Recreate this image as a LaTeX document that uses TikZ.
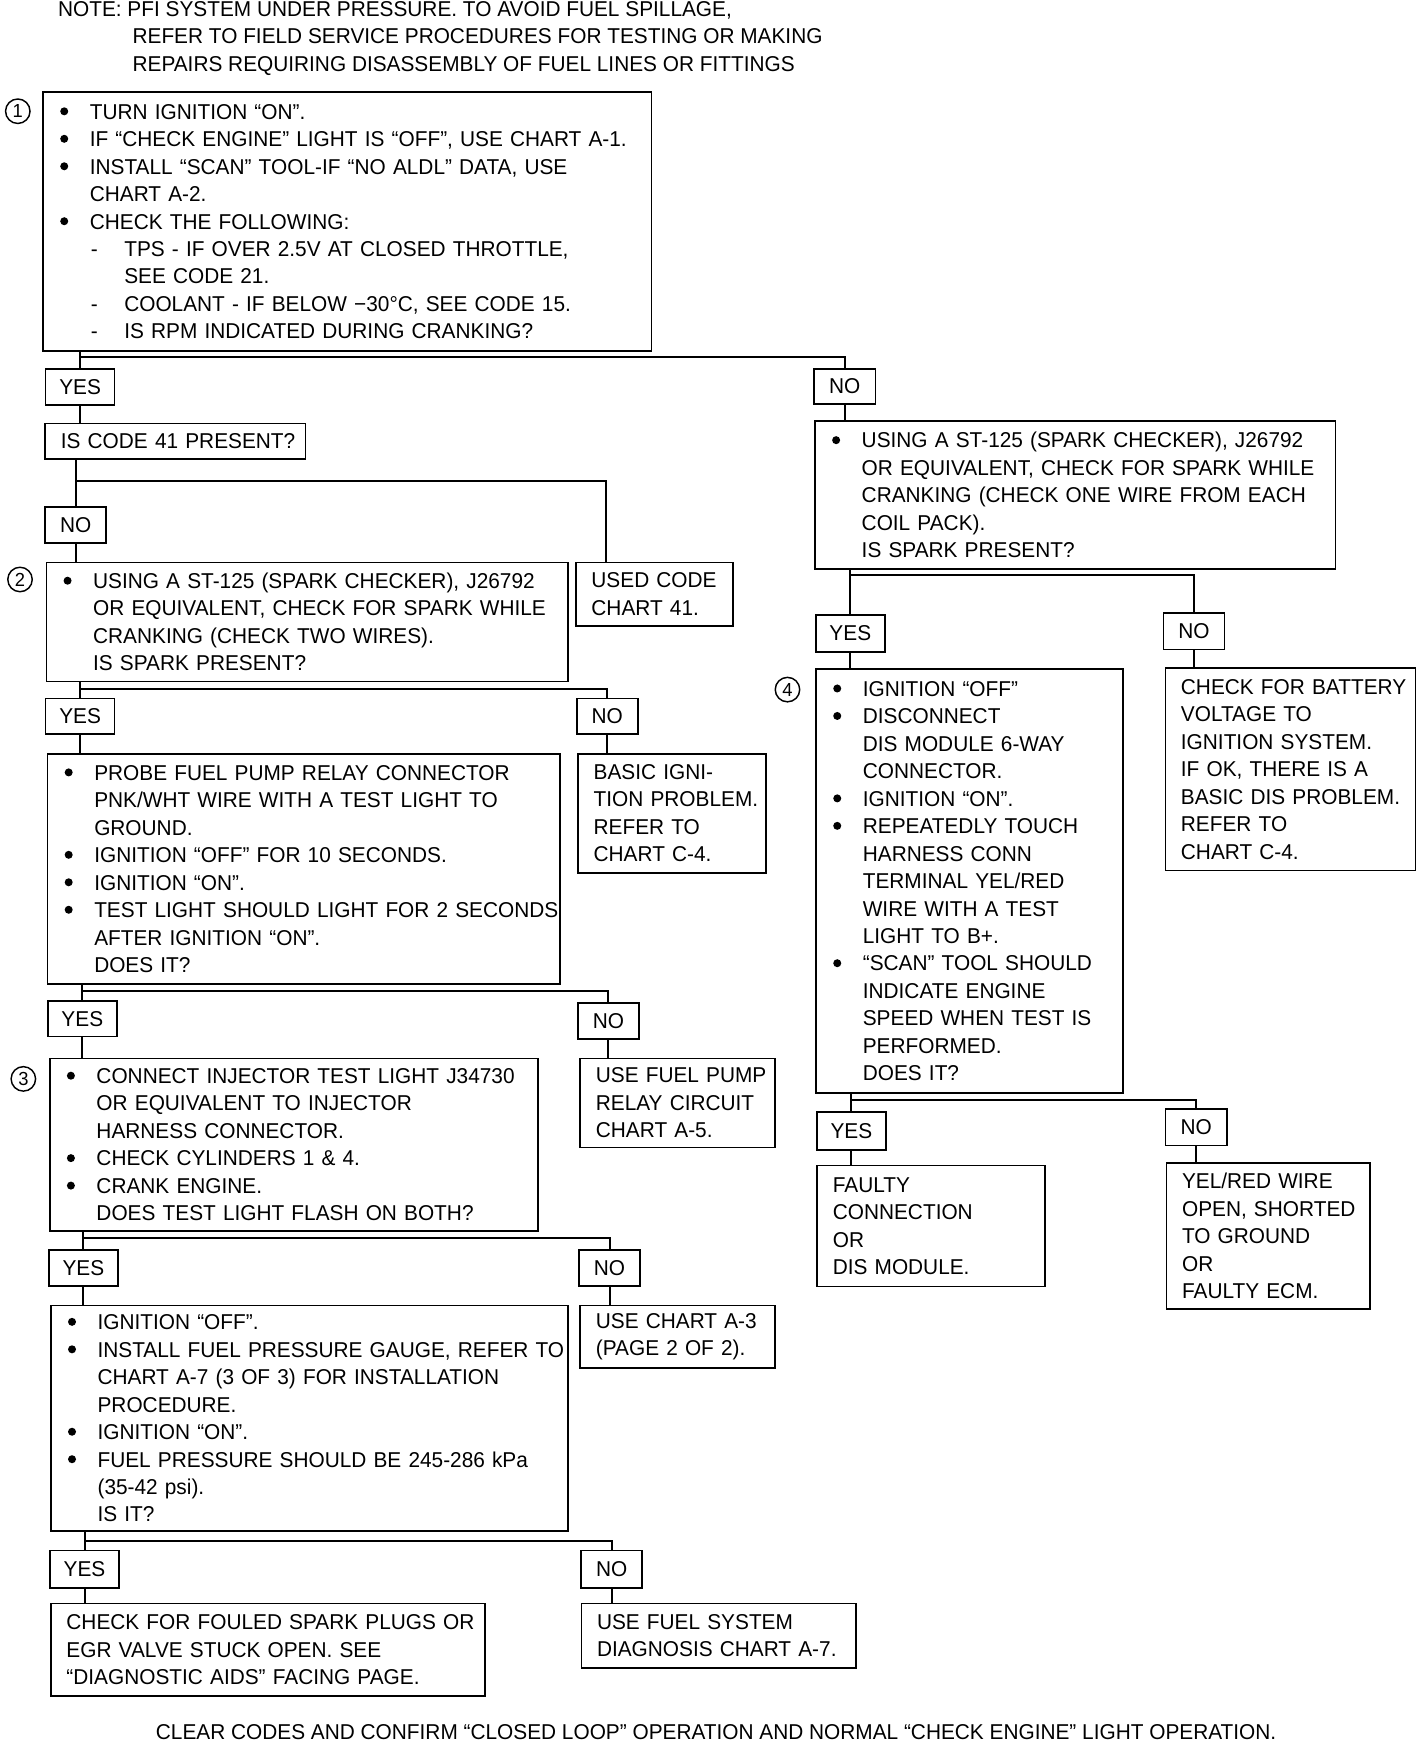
\documentclass[tikz,border=0pt]{standalone}
\usepackage{fontspec}
\setmainfont{Liberation Sans}[FakeStretch=0.97]
\usetikzlibrary{calc}
\newcommand\xbul{\raisebox{3.4pt}{\tikz\fill (0pt,0pt) circle (3.6pt);}}
\newcommand\xbi[1]{\mbox{\makebox[28pt][l]{\hspace{1.4pt}\xbul}#1}}
\newcommand\xci[1]{\mbox{\hspace*{28pt}#1}}
\newcommand\xpl[1]{\mbox{#1}}
\newcommand\xdi[1]{\mbox{\hspace*{28pt}\makebox[31pt][l]{\hspace{1pt}-}#1}}
\newcommand\xdc[1]{\mbox{\hspace*{59pt}#1}}
\begin{document}
\begin{tikzpicture}[x=1pt,y=-1pt,
  every node/.style={font=\fontsize{19.3}{24.7}\selectfont},
  box/.style={draw, line width=1.5pt, anchor=north west, inner xsep=14pt, inner ysep=0pt, align=left},
  lab/.style={draw, line width=1.5pt, minimum height=32pt, inner sep=0pt},
  yeslab/.style={lab, minimum width=62pt},
  nolab/.style={lab, minimum width=55pt},
  num/.style={draw, circle, minimum size=22pt, inner sep=0pt, line width=1.3pt, font=\fontsize{17}{17}\selectfont},
  conn/.style={line width=1.8pt},
  txt/.style={anchor=base west, inner sep=0pt}]
\useasboundingbox (0,0) rectangle (1280,1568);

% note
\node[txt] (n1) at (52,15) {NOTE: PFI SYSTEM UNDER PRESSURE. TO AVOID FUEL SPILLAGE,};
\node[txt] (n2) at (119,39) {REFER TO FIELD SERVICE PROCEDURES FOR TESTING OR MAKING};
\node[txt] (n3) at (119,64) {REPAIRS REQUIRING DISASSEMBLY OF FUEL LINES OR FITTINGS};

% circled numbers
\node[num] (c1) at (16,100) {1};
\node[num] (c2) at (18,521) {2};
\node[num] (c3) at (21,970) {3};
\node[num] (c4) at (708,620) {4};

% boxes
\node[box, minimum width=547pt, text width=519pt, minimum height=233pt] (b1) at (38,82) {%
\xbi{TURN IGNITION “ON”.}\\
\xbi{IF “CHECK ENGINE” LIGHT IS “OFF”, USE CHART A-1.}\\
\xbi{INSTALL “SCAN” TOOL-IF “NO ALDL” DATA, USE}\\
\xci{CHART A-2.}\\
\xbi{CHECK THE FOLLOWING:}\\
\xdi{TPS - IF OVER 2.5V AT CLOSED THROTTLE,}\\
\xdc{SEE CODE 21.}\\
\xdi{COOLANT - IF BELOW −30°C, SEE CODE 15.}\\
\xdi{IS RPM INDICATED DURING CRANKING?}};

\node[box, minimum width=234pt, text width=206pt, minimum height=32pt] (q41) at (40,380) {\xpl{IS CODE 41 PRESENT?}};

\node[box, minimum width=141pt, text width=113pt, minimum height=57pt] (used) at (517,505) {%
\xpl{USED CODE}\\
\xpl{CHART 41.}};

\node[box, minimum width=469pt, text width=441pt, minimum height=107pt] (b2) at (41,505) {%
\xbi{USING A ST-125 (SPARK CHECKER), J26792}\\
\xci{OR EQUIVALENT, CHECK FOR SPARK WHILE}\\
\xci{CRANKING (CHECK TWO WIRES).}\\
\xci{IS SPARK PRESENT?}};

\node[box, minimum width=461pt, text width=433pt, minimum height=207pt] (bP) at (42,677) {%
\xbi{PROBE FUEL PUMP RELAY CONNECTOR}\\
\xci{PNK/WHT WIRE WITH A TEST LIGHT TO}\\
\xci{GROUND.}\\
\xbi{IGNITION “OFF” FOR 10 SECONDS.}\\
\xbi{IGNITION “ON”.}\\
\xbi{TEST LIGHT SHOULD LIGHT FOR 2 SECONDS}\\
\xci{AFTER IGNITION “ON”.}\\
\xci{DOES IT?}};

\node[box, minimum width=169pt, text width=141pt, minimum height=107pt] (basic) at (519,677) {%
\xpl{BASIC IGNI-}\\
\xpl{TION PROBLEM.}\\
\xpl{REFER TO}\\
\xpl{CHART C-4.}};

\node[box, minimum width=439pt, text width=411pt, minimum height=155pt] (b3) at (44,951) {%
\xbi{CONNECT INJECTOR TEST LIGHT J34730}\\
\xci{OR EQUIVALENT TO INJECTOR}\\
\xci{HARNESS CONNECTOR.}\\
\xbi{CHECK CYLINDERS 1 \& 4.}\\
\xbi{CRANK ENGINE.}\\
\xci{DOES TEST LIGHT FLASH ON BOTH?}};

\node[box, minimum width=175pt, text width=147pt, minimum height=80pt] (pump) at (521,951) {%
\xpl{USE FUEL PUMP}\\
\xpl{RELAY CIRCUIT}\\
\xpl{CHART A-5.}};

\node[box, minimum width=465pt, text width=437pt, minimum height=203pt] (b4) at (45,1173) {%
\xbi{IGNITION “OFF”.}\\
\xbi{INSTALL FUEL PRESSURE GAUGE, REFER TO}\\
\xci{CHART A-7 (3 OF 3) FOR INSTALLATION}\\
\xci{PROCEDURE.}\\
\xbi{IGNITION “ON”.}\\
\xbi{FUEL PRESSURE SHOULD BE 245-286 kPa}\\
\xci{(35-42 psi).}\\
\xci{IS IT?}};

\node[box, minimum width=175pt, text width=147pt, minimum height=56pt] (a3) at (521,1173) {%
\xpl{USE CHART A-3}\\
\xpl{(PAGE 2 OF 2).}};

\node[box, minimum width=390pt, text width=362pt, minimum height=83pt] (fyes) at (45,1441) {%
\xpl{CHECK FOR FOULED SPARK PLUGS OR}\\
\xpl{EGR VALVE STUCK OPEN. SEE}\\
\xpl{“DIAGNOSTIC AIDS” FACING PAGE.}};

\node[box, minimum width=247pt, text width=219pt, minimum height=58pt] (fno) at (522,1441) {%
\xpl{USE FUEL SYSTEM}\\
\xpl{DIAGNOSIS CHART A-7.}};

\node[box, minimum width=468pt, text width=440pt, minimum height=133pt] (rb) at (732,378) {%
\xbi{USING A ST-125 (SPARK CHECKER), J26792}\\
\xci{OR EQUIVALENT, CHECK FOR SPARK WHILE}\\
\xci{CRANKING (CHECK ONE WIRE FROM EACH}\\
\xci{COIL PACK).}\\
\xci{IS SPARK PRESENT?}};

\node[box, minimum width=276pt, text width=248pt, minimum height=381pt] (r4) at (733,601) {%
\xbi{IGNITION “OFF”}\\
\xbi{DISCONNECT}\\
\xci{DIS MODULE 6-WAY}\\
\xci{CONNECTOR.}\\
\xbi{IGNITION “ON”.}\\
\xbi{REPEATEDLY TOUCH}\\
\xci{HARNESS CONN}\\
\xci{TERMINAL YEL/RED}\\
\xci{WIRE WITH A TEST}\\
\xci{LIGHT TO B+.}\\
\xbi{“SCAN” TOOL SHOULD}\\
\xci{INDICATE ENGINE}\\
\xci{SPEED WHEN TEST IS}\\
\xci{PERFORMED.}\\
\xci{DOES IT?}};

\node[box, minimum width=225pt, text width=197pt, minimum height=182pt] (batt) at (1047,600) {%
\xpl{CHECK FOR BATTERY}\\
\xpl{VOLTAGE TO}\\
\xpl{IGNITION SYSTEM.}\\
\xpl{IF OK, THERE IS A}\\
\xpl{BASIC DIS PROBLEM.}\\
\xpl{REFER TO}\\
\xpl{CHART C-4.}};

\node[box, minimum width=205pt, text width=177pt, minimum height=109pt] (faulty) at (734,1047) {%
\xpl{FAULTY}\\
\xpl{CONNECTION}\\
\xpl{OR}\\
\xpl{DIS MODULE.}};

\node[box, minimum width=183pt, text width=155pt, minimum height=131pt] (yelred) at (1048,1045) {%
\xpl{YEL/RED WIRE}\\
\xpl{OPEN, SHORTED}\\
\xpl{TO GROUND}\\
\xpl{OR}\\
\xpl{FAULTY ECM.}};

% yes / no labels
\node[yeslab] (yesA) at (72,348) {YES};
\node[nolab] (noA) at (759.5,347.5) {NO};
\node[nolab] (noB) at (68,472) {NO};
\node[yeslab] (yesC) at (72,644) {YES};
\node[nolab] (noC) at (546,644) {NO};
\node[yeslab] (yesD) at (74,916) {YES};
\node[nolab] (noD) at (547,918) {NO};
\node[yeslab] (yesE) at (75,1140) {YES};
\node[nolab] (noE) at (548,1140) {NO};
\node[yeslab, minimum height=34pt] (yesF) at (76,1411) {YES};
\node[nolab, minimum height=34pt] (noF) at (550,1411) {NO};
\node[yeslab, minimum height=33pt] (yesG) at (764.5,569.5) {YES};
\node[nolab, minimum height=33pt] (noG) at (1073.5,567.5) {NO};
\node[yeslab, minimum height=34pt] (yesH) at (765.5,1017) {YES};
\node[nolab, minimum height=33pt] (noH) at (1075.5,1013.5) {NO};

% connectors
% split A
\draw[conn] (yesA.north |- b1.south) -- (yesA.north);
\draw[conn] ([yshift=10pt]yesA.north) -| (noA.north);
\draw[conn] (yesA.south) -- (yesA.south |- q41.north);
\draw[conn] (noA.south) -- (noA.south |- rb.north);
% split B
\draw[conn] (noB.north |- q41.south) -- (noB.north);
\draw[conn] ([yshift=23pt]noB.north) -| ([xshift=28pt]used.north west);
\draw[conn] (noB.south) -- (noB.south |- b2.north);
% split C
\draw[conn] (yesC.north |- b2.south) -- (yesC.north);
\draw[conn] ([yshift=8pt]yesC.north) -| (noC.north);
\draw[conn] (yesC.south) -- (yesC.south |- bP.north);
\draw[conn] (noC.south) -- (noC.south |- basic.north);
% split D
\draw[conn] (yesD.north |- bP.south) -- (yesD.north);
\draw[conn] ([yshift=8pt]yesD.north) -| (noD.north);
\draw[conn] (yesD.south) -- (yesD.south |- b3.north);
\draw[conn] (noD.south) -- (noD.south |- pump.north);
% split E
\draw[conn] (yesE.north |- b3.south) -- (yesE.north);
\draw[conn] ([yshift=10pt]yesE.north) -| (noE.north);
\draw[conn] (yesE.south) -- (yesE.south |- b4.north);
\draw[conn] (noE.south) -- (noE.south |- a3.north);
% split F
\draw[conn] (yesF.north |- b4.south) -- (yesF.north);
\draw[conn] ([yshift=8pt]yesF.north) -| (noF.north);
\draw[conn] (yesF.south) -- (yesF.south |- fyes.north);
\draw[conn] (noF.south) -- (noF.south |- fno.north);
% split G
\draw[conn] (yesG.north |- rb.south) -- (yesG.north);
\draw[conn] ([yshift=35pt]yesG.north) -| (noG.north);
\draw[conn] (yesG.south) -- (yesG.south |- r4.north);
\draw[conn] (noG.south) -- (noG.south |- batt.north);
% split H
\draw[conn] (yesH.north |- r4.south) -- (yesH.north);
\draw[conn] ([yshift=10pt]yesH.north) -| (noH.north);
\draw[conn] (yesH.south) -- (yesH.south |- faulty.north);
\draw[conn] (noH.south) -- (noH.south |- yelred.north);

% closing line
\node[txt] (clr) at (140,1564) {CLEAR CODES AND CONFIRM “CLOSED LOOP” OPERATION AND NORMAL “CHECK ENGINE” LIGHT OPERATION.};
\end{tikzpicture}
\end{document}
